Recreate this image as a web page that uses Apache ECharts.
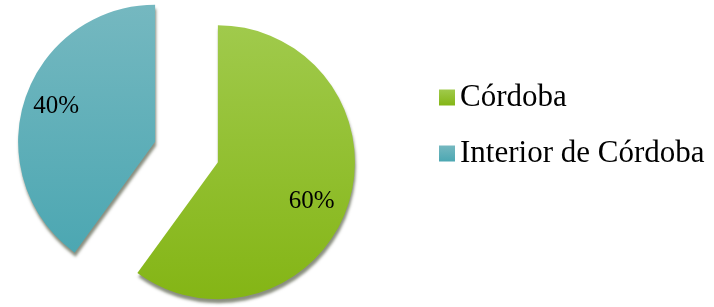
<!DOCTYPE html>
<html><head><meta charset="utf-8">
<script src="https://cdn.jsdelivr.net/npm/echarts@6/dist/echarts.min.js"></script>
<style>html,body{margin:0;padding:0;background:#fff}#c{width:714px;height:307px}</style>
</head><body><div id="c"></div>
<script>
const categories = ['Córdoba', 'Interior de Córdoba'];
const values = [60, 40];
const labels = ['60%', '40%'];

const grads = [
  new echarts.graphic.LinearGradient(0, 0, 0, 1, [{offset:0,color:'#a0ca4c'},{offset:1,color:'#84b515'}]),
  new echarts.graphic.LinearGradient(0, 0, 0, 1, [{offset:0,color:'#75b8c0'},{offset:1,color:'#4ca7b2'}])
];
const labelShift = [[-6, 7], [1, -3]];

const chart = echarts.init(document.getElementById('c'));
chart.setOption({
  animation: false,
  legend: {
    orient: 'vertical', left: 434, top: 77,
    itemWidth: 16, itemHeight: 16, itemGap: 25, itemTextGap: 6,
    icon: 'rect',
    data: categories,
    textStyle: { fontFamily: 'Liberation Serif', fontSize: 31, color: '#000', lineHeight: 31 }
  },
  series: [{
    type: 'pie', center: [186.5, 152], radius: 137, startAngle: 90, clockwise: true,
    selectedMode: 'multiple', selectedOffset: 33,
    emphasis: { disabled: true },
    label: { show: false }, labelLine: { show: false },
    itemStyle: { shadowBlur: 3, shadowOffsetX: 1, shadowOffsetY: 4, shadowColor: 'rgba(20,30,0,0.5)' },
    data: categories.map((n, i) => ({ name: n, value: values[i], selected: true, itemStyle: { color: grads[i] } }))
  }, {
    type: 'pie', center: [186.5, 152], radius: 204, startAngle: 90, clockwise: true, silent: true,
    selectedMode: 'multiple', selectedOffset: 33,
    emphasis: { disabled: true },
    itemStyle: { color: 'rgba(0,0,0,0)' },
    label: { show: true, position: 'inside', formatter: p => labels[p.dataIndex],
      fontFamily: 'Liberation Serif', fontSize: 25, color: '#000' },
    labelLine: { show: false },
    labelLayout: p => ({ dx: labelShift[p.dataIndex][0], dy: labelShift[p.dataIndex][1] }),
    data: categories.map((n, i) => ({ name: n, value: values[i], selected: true }))
  }]
});
</script></body></html>
